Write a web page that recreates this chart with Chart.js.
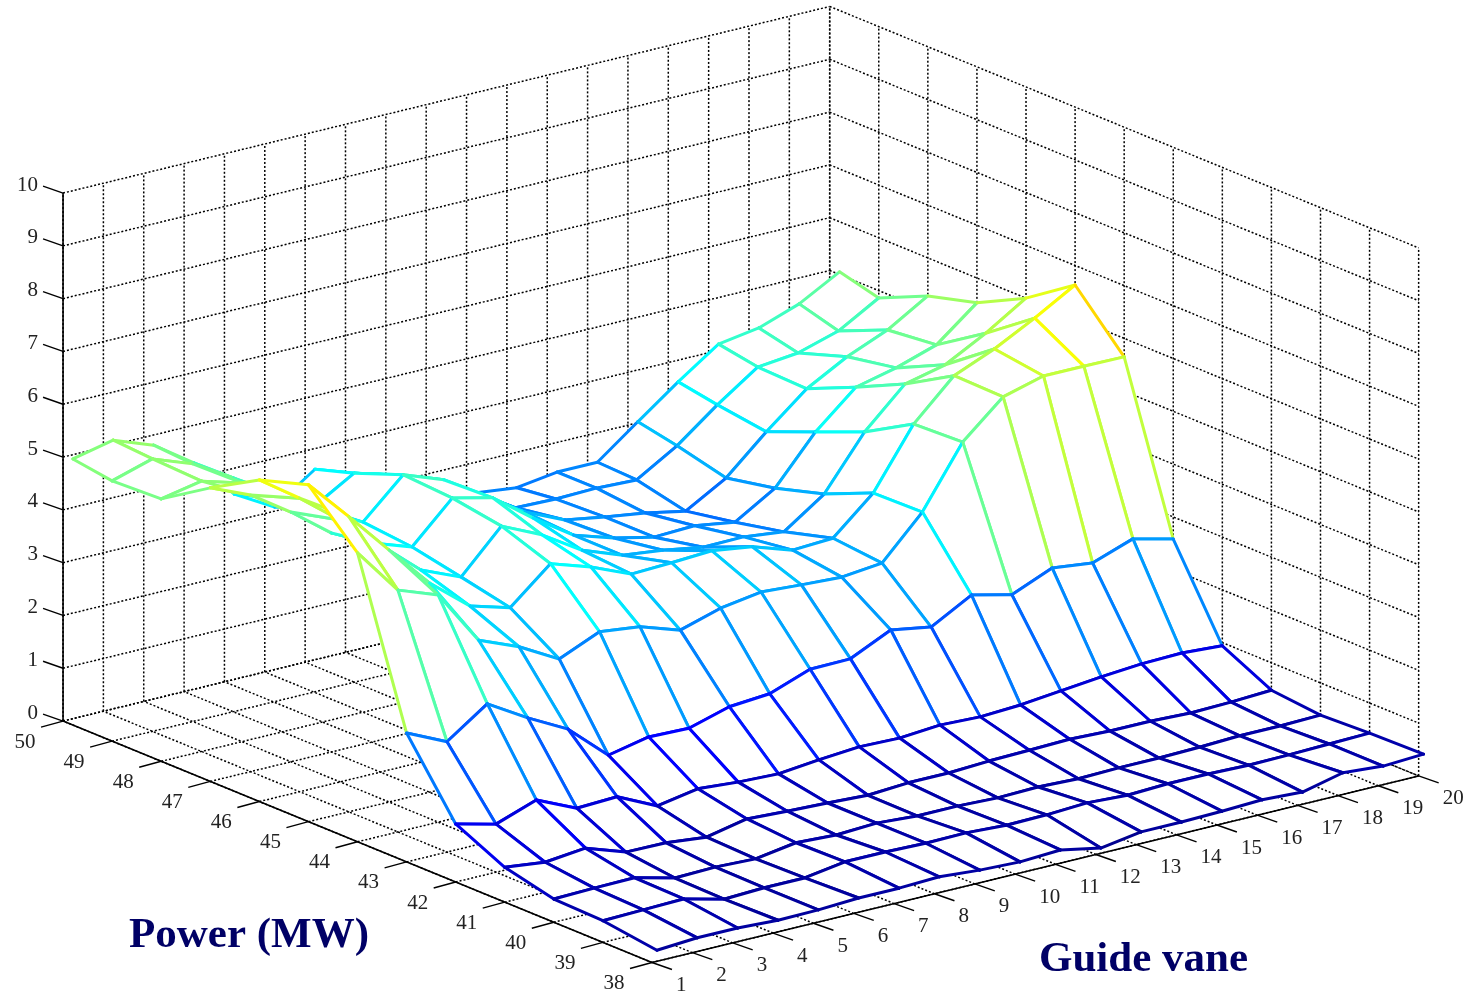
<!DOCTYPE html>
<html>
<head>
<meta charset="utf-8">
<title>Guide vane / Power surface</title>
<script src="https://cdn.jsdelivr.net/npm/chart.js@4/dist/chart.umd.min.js"></script>
<style>
  html, body { margin: 0; padding: 0; background: #fff; }
  canvas { display: block; }
</style>
</head>
<body>
<canvas id="surfaceChart" width="1476" height="1000"></canvas>
<script>
// tick labels
const guideTicks = [1, 2, 3, 4, 5, 6, 7, 8, 9, 10, 11, 12, 13, 14, 15, 16, 17, 18, 19, 20];
const powerTicks = [38, 39, 40, 41, 42, 43, 44, 45, 46, 47, 48, 49, 50];
const heightTicks = [0, 1, 2, 3, 4, 5, 6, 7, 8, 9, 10];

// power level of each mesh row (first and last sit a bit inside the ticks)
const powerRows = [37.9, 39, 40, 41, 42, 43, 44, 45, 46, 47, 48, 49, 49.8];

// surface height per power row, one value per guide vane position 1..20
const rowP38 = [0.27, 0.32, 0.32, 0.28, 0.29, 0.33, 0.33, 0.36, 0.30, 0.27, 0.31, 0.16, 0.28, 0.28, 0.30, 0.33, 0.29, 0.47, 0.41, 0.45];
const rowP39 = [0.41, 0.43, 0.45, 0.26, 0.29, 0.29, 0.41, 0.41, 0.39, 0.40, 0.36, 0.37, 0.41, 0.37, 0.40, 0.40, 0.38, 0.39, 0.41, 0.43];
const rowP40 = [0.44, 0.46, 0.47, 0.28, 0.30, 0.27, 0.39, 0.35, 0.39, 0.34, 0.34, 0.31, 0.33, 0.30, 0.32, 0.32, 0.34, 0.37, 0.37, 0.39];
const rowP41 = [0.66, 0.57, 0.65, 0.39, 0.38, 0.30, 0.46, 0.42, 0.39, 0.35, 0.40, 0.40, 0.44, 0.46, 0.48, 0.45, 0.45, 0.42, 0.44, 0.48];
const rowP42 = [1.10, 0.91, 1.18, 0.84, 0.87, 0.51, 0.65, 0.59, 0.56, 0.64, 0.70, 0.68, 0.74, 0.71, 0.75, 0.83, 0.91, 0.97, 0.99, 0.94];
const rowP43 = [2.44, 2.09, 2.62, 2.17, 1.77, 1.09, 1.25, 1.23, 1.45, 1.51, 1.79, 1.80, 2.16, 2.03, 2.45, 2.27, 2.59, 2.50, 2.77, 2.58];
const rowP44 = [5.47, 4.58, 4.30, 3.26, 2.95, 2.53, 2.86, 2.77, 2.52, 2.75, 2.87, 2.82, 2.78, 2.86, 3.64, 4.78, 5.45, 5.66, 5.66, 5.65];
const rowP45 = [6.38, 5.59, 4.77, 3.96, 3.34, 3.12, 3.77, 3.52, 3.20, 3.23, 3.27, 3.16, 2.91, 2.95, 3.62, 4.74, 5.47, 5.79, 6.19, 6.63];
const rowP46 = [6.09, 5.56, 4.96, 4.30, 3.64, 3.32, 4.10, 3.75, 3.27, 2.99, 2.90, 2.77, 2.78, 2.69, 3.22, 4.21, 4.93, 5.11, 5.52, 6.00];
const rowP47 = [5.56, 5.24, 4.73, 4.15, 3.77, 3.51, 4.25, 4.07, 3.50, 2.99, 2.75, 2.58, 2.61, 2.49, 2.95, 3.83, 4.49, 4.67, 4.92, 5.53];
const rowP48 = [4.97, 5.12, 4.90, 4.48, 3.98, 3.60, 4.31, 4.03, 3.52, 3.05, 2.71, 2.58, 2.47, 2.32, 2.76, 3.45, 4.08, 4.50, 4.82, 5.28];
const rowP49 = [4.93, 5.16, 4.88, 4.43, 3.86, 3.51, 3.96, 3.74, 3.44, 3.03, 2.56, 2.54, 2.56, 2.53, 2.99, 3.58, 4.11, 4.19, 4.42, 4.86];
const rowP50 = [5.04, 5.21, 4.93, 4.41, 3.63, 3.20, 3.73, 3.47, 3.25, 2.99, 2.54, 2.45, 2.56, 2.56, 3.14, 3.71, 4.24, 4.36, 4.63, 5.05];

const heightRows = [rowP38, rowP39, rowP40, rowP41, rowP42, rowP43, rowP44, rowP45, rowP46, rowP47, rowP48, rowP49, rowP50];

// fixed view of the 3D box: axis corner and one unit along each axis, in page units
const view = { x0: 652, y0: 962.5, gx: 40.35, gy: -9.82, px: -49.08, py: -20.12, zy: -52.8 };

function project(guide, power, z) {
    return {
        x: view.x0 + view.gx * (guide - 1) + view.px * (power - 38),
        y: view.y0 + view.gy * (guide - 1) + view.py * (power - 38) + view.zy * z
    };
}

// jet colormap over the 0..10 height range
function jet(z) {
    const t = z / 10;
    const part = c => Math.round(255 * Math.min(1, Math.max(0, 1.5 - Math.abs(4 * t - c))));
    return `rgb(${part(3)},${part(2)},${part(1)})`;
}

function lineSet(from, to, width, dash) {
    return {
        data: [from, to],
        showLine: true,
        fill: false,
        borderColor: '#000',
        borderWidth: width,
        borderDash: dash,
        pointRadius: 0,
        clip: false
    };
}

function offset(p, dx, dy) {
    return { x: p.x + dx, y: p.y + dy };
}

const gMin = guideTicks[0], gMax = guideTicks[guideTicks.length - 1];
const pMin = powerTicks[0], pMax = powerTicks[powerTicks.length - 1];
const zMax = heightTicks[heightTicks.length - 1];

const datasets = [];

// mesh cells, nearest first because Chart.js paints the first dataset last.
// Each cell is two datasets: coloured edges on top of a white face, since
// per-segment colours split the line and 'shape' would then fill nothing.
for (let r = 0; r < powerRows.length - 1; r++) {
    for (let c = 0; c < guideTicks.length - 1; c++) {
        const near = heightRows[r], far = heightRows[r + 1];
        const gA = guideTicks[c], gB = guideTicks[c + 1];
        const pNear = powerRows[r], pFar = powerRows[r + 1];
        const corners = [
            project(gA, pFar, far[c]),
            project(gB, pFar, far[c + 1]),
            project(gB, pNear, near[c + 1]),
            project(gA, pNear, near[c]),
            project(gA, pFar, far[c])
        ];
        const edgeColors = [jet(far[c]), jet(far[c + 1]), jet(near[c]), jet(far[c])];
        datasets.push({
            data: corners,
            showLine: true,
            fill: false,
            borderWidth: 3,
            borderJoinStyle: 'round',
            borderCapStyle: 'round',
            pointRadius: 0,
            clip: false,
            segment: { borderColor: ctx => edgeColors[ctx.p0DataIndex] }
        });
        datasets.push({
            data: corners,
            showLine: true,
            fill: 'shape',
            backgroundColor: '#fff',
            borderWidth: 0,
            pointRadius: 0,
            clip: false
        });
    }
}

// solid axes and tick marks
datasets.push(lineSet(project(gMin, pMax, 0), project(gMin, pMax, zMax), 1.6, []));
datasets.push(lineSet(project(gMin, pMin, 0), project(gMin, pMax, 0), 1.6, []));
datasets.push(lineSet(project(gMin, pMin, 0), project(gMax, pMin, 0), 1.6, []));
heightTicks.forEach(z => {
    const p = project(gMin, pMax, z);
    datasets.push(lineSet(p, offset(p, -20, -7), 1.4, []));
});
powerTicks.forEach(v => {
    const p = project(gMin, v, 0);
    datasets.push(lineSet(p, offset(p, -22, 6), 1.4, []));
});
guideTicks.forEach(v => {
    const p = project(v, pMin, 0);
    datasets.push(lineSet(p, offset(p, 20, 7), 1.4, []));
});

// dotted grid on the floor and both back walls
const dots = [2, 2];
guideTicks.forEach(v => {
    datasets.push(lineSet(project(v, pMin, 0), project(v, pMax, 0), 1.5, dots));
    datasets.push(lineSet(project(v, pMax, 0), project(v, pMax, zMax), 1.5, dots));
});
powerTicks.forEach(v => {
    datasets.push(lineSet(project(gMin, v, 0), project(gMax, v, 0), 1.5, dots));
    datasets.push(lineSet(project(gMax, v, 0), project(gMax, v, zMax), 1.5, dots));
});
heightTicks.forEach(z => {
    datasets.push(lineSet(project(gMin, pMax, z), project(gMax, pMax, z), 1.5, dots));
    datasets.push(lineSet(project(gMax, pMax, z), project(gMax, pMin, z), 1.5, dots));
});

// tick labels and the two axis titles
const labelPlugin = {
    id: 'boxLabels',
    afterDraw(chart) {
        const ctx = chart.ctx;
        const sx = chart.scales.x, sy = chart.scales.y;
        const put = (text, p, dx, dy, align) => {
            ctx.textAlign = align;
            ctx.fillText(text, sx.getPixelForValue(p.x) + dx, sy.getPixelForValue(p.y) + dy);
        };
        ctx.save();
        ctx.textBaseline = 'middle';
        ctx.fillStyle = '#222';
        ctx.font = '21px "Liberation Serif"';
        heightTicks.forEach(z => put(String(z), project(gMin, pMax, z), -25, -8, 'right'));
        powerTicks.forEach(v => put(String(v), project(gMin, v, 0), -38, 21, 'center'));
        guideTicks.forEach(v => put(String(v), project(v, pMin, 0), 24, 23, 'left'));

        ctx.fillStyle = '#000066';
        ctx.font = 'bold 43px "Liberation Serif"';
        ctx.textAlign = 'left';
        ctx.fillText('Power (MW)', sx.getPixelForValue(129), sy.getPixelForValue(936));
        ctx.fillText('Guide vane', sx.getPixelForValue(1039), sy.getPixelForValue(960));
        ctx.restore();
    }
};

const ctx = document.getElementById('surfaceChart').getContext('2d');
new Chart(ctx, {
    type: 'scatter',
    data: { datasets: datasets },
    options: {
        responsive: false,
        animation: false,
        events: [],
        layout: { padding: 0 },
        plugins: {
            legend: { display: false },
            title: { display: false },
            tooltip: { enabled: false }
        },
        scales: {
            x: { type: 'linear', min: 0, max: 1476, display: false },
            y: { type: 'linear', min: 0, max: 1000, reverse: true, display: false }
        }
    },
    plugins: [labelPlugin]
});
</script>
</body>
</html>
